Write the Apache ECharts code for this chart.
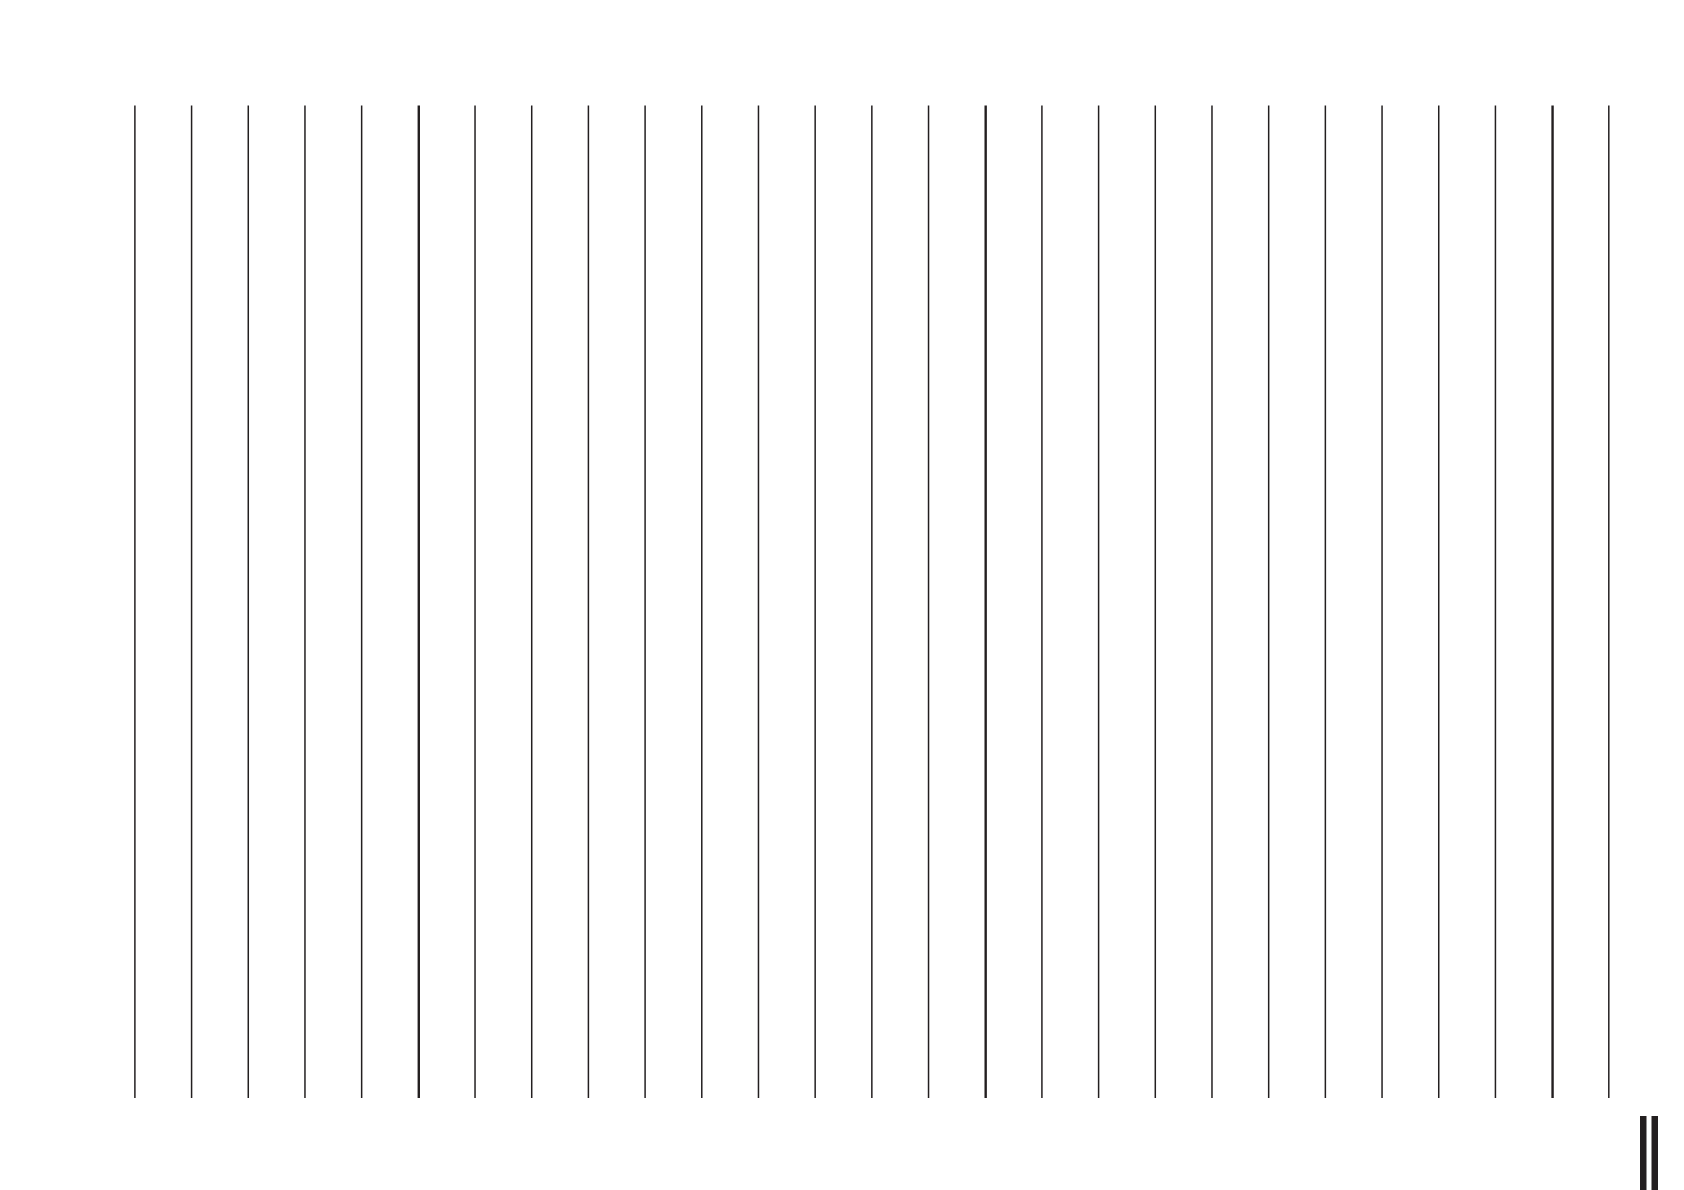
<!DOCTYPE html>
<html>
<head>
<meta charset="utf-8">
<script src="https://cdn.jsdelivr.net/npm/echarts@6/dist/echarts.min.js"></script>
<style>
  html, body { margin: 0; padding: 0; background: #fff; }
  #chart { width: 1684px; height: 1190px; }
</style>
</head>
<body>
<div id="chart"></div>
<script>
// 27 evenly spaced rules, every tenth one (from index 5) drawn heavier
const ticks = ['0', '1', '2', '3', '4', '5', '6', '7', '8', '9', '10', '11', '12', '13',
  '14', '15', '16', '17', '18', '19', '20', '21', '22', '23', '24', '25', '26']
const thinValues = [1, 1, 1, 1, 1, '-', 1, 1, 1, 1, 1, 1, 1, 1, 1, '-', 1, 1, 1, 1, 1, 1, 1, 1, 1, '-', 1]
const thickValues = ['-', '-', '-', '-', '-', 1, '-', '-', '-', '-', '-', '-', '-', '-', '-', 1,
  '-', '-', '-', '-', '-', '-', '-', '-', '-', 1, '-']
// the two heavy marks cut off at the lower right corner
const cornerCats = ['a', 'b']
const cornerValues = [1, 1]

const ink = '#231f20'

const chart = echarts.init(document.getElementById('chart'))
chart.setOption({
  animation: false,
  backgroundColor: '#fff',
  grid: [
    { left: 107, width: 1530.6, top: 105.5, height: 992.5 },
    { left: 1637.5, width: 23, top: 1116, height: 90 },
  ],
  xAxis: [
    {
      type: 'category',
      gridIndex: 0,
      data: ticks,
      boundaryGap: true,
      axisLine: { show: false },
      axisTick: { show: false },
      axisLabel: { show: false },
      splitLine: { show: false },
    },
    {
      type: 'category',
      gridIndex: 1,
      data: cornerCats,
      axisLine: { show: false },
      axisTick: { show: false },
      axisLabel: { show: false },
      splitLine: { show: false },
    },
  ],
  yAxis: [
    {
      type: 'value',
      gridIndex: 0,
      min: 0,
      max: 1,
      show: false,
      splitLine: { show: false },
    },
    {
      type: 'value',
      gridIndex: 1,
      min: 0,
      max: 1,
      show: false,
      splitLine: { show: false },
    },
  ],
  series: [
    {
      type: 'bar',
      xAxisIndex: 0,
      yAxisIndex: 0,
      data: thinValues,
      barWidth: 1.5,
      barGap: '-100%',
      itemStyle: { color: ink },
    },
    {
      type: 'bar',
      xAxisIndex: 0,
      yAxisIndex: 0,
      data: thickValues,
      barWidth: 2.4,
      barGap: '-100%',
      itemStyle: { color: ink },
    },
    {
      type: 'bar',
      xAxisIndex: 1,
      yAxisIndex: 1,
      data: cornerValues,
      barWidth: 6.5,
      itemStyle: { color: ink },
    },
  ],
})
</script>
</body>
</html>
